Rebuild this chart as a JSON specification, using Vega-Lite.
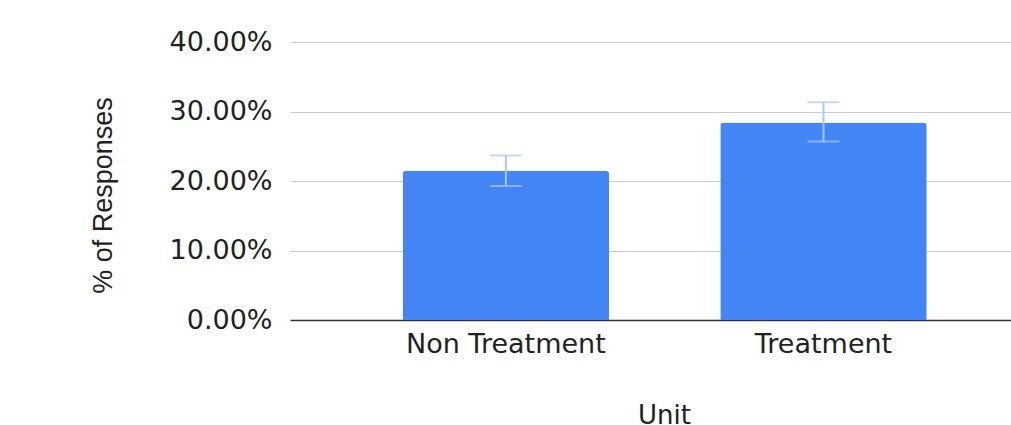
{
  "$schema": "https://vega.github.io/schema/vega-lite/v6.json",
  "autosize": "none",
  "width": 721,
  "height": 278,
  "padding": {"left": 290, "top": 42, "right": 0, "bottom": 105},
  "background": "white",
  "config": {
    "view": {"stroke": null},
    "axis": {"labelFont": "DejaVu Sans", "titleFont": "DejaVu Sans", "labelColor": "#222222", "titleColor": "#222222", "titleFontWeight": "normal", "labelLimit": 400}
  },
  "data": {
    "values": [
      {"unit": "Non Treatment", "pct": 0.2144, "low": 0.1928, "high": 0.2366},
      {"unit": "Treatment", "pct": 0.2841, "low": 0.2568, "high": 0.3134}
    ]
  },
  "encoding": {
    "x": {
      "field": "unit",
      "type": "nominal",
      "sort": null,
      "scale": {"paddingInner": 0.35, "paddingOuter": 0.31, "align": 0.572},
      "axis": {
        "title": "Unit",
        "labelAngle": 0,
        "labelFontSize": 27,
        "labelPadding": 11,
        "titleFontSize": 26,
        "titlePadding": 45,
        "titleX": 374,
        "ticks": false,
        "domainColor": "#333333",
        "domainWidth": 1.5,
        "grid": false
      }
    }
  },
  "layer": [
    {
      "mark": {"type": "bar", "color": "#4285f4", "cornerRadiusTopLeft": 3, "cornerRadiusTopRight": 3},
      "encoding": {
        "y": {
          "field": "pct",
          "type": "quantitative",
          "title": "% of Responses",
          "scale": {"domain": [0, 0.4], "nice": false},
          "axis": {
            "title": "% of Responses",
            "titleFont": "Liberation Sans",
            "titleFontSize": 27,
            "titlePadding": 52,
            "titleY": 153,
            "values": [0, 0.1, 0.2, 0.3, 0.4],
            "format": ".2%",
            "labelFontSize": 27,
            "labelPadding": 18,
            "ticks": false,
            "domain": false,
            "gridColor": "#cccccc",
            "gridWidth": 1.2
          }
        }
      }
    },
    {
      "mark": {"type": "errorbar", "ticks": {"size": 32, "color": "#a8c7fa", "thickness": 2}, "rule": {"color": "#a8c7fa", "strokeWidth": 2}},
      "encoding": {
        "y": {"field": "low", "type": "quantitative", "title": "% of Responses"},
        "y2": {"field": "high"}
      }
    }
  ]
}
